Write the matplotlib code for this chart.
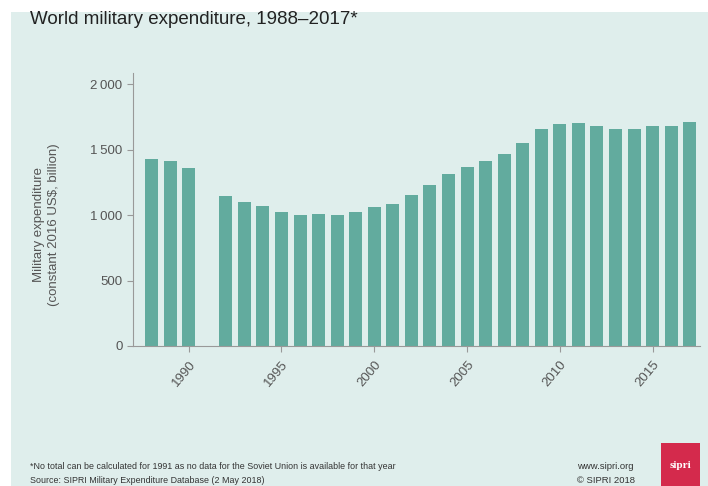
import matplotlib.pyplot as plt
from matplotlib.patches import Rectangle

years = [1988, 1989, 1990, 1992, 1993, 1994, 1995, 1996, 1997, 1998, 1999,
         2000, 2001, 2002, 2003, 2004, 2005, 2006, 2007, 2008, 2009, 2010,
         2011, 2012, 2013, 2014, 2015, 2016, 2017]
spending = [1430, 1412, 1356, 1143, 1099, 1066, 1020, 997, 1010, 997, 1023,
            1061, 1081, 1150, 1232, 1310, 1364, 1412, 1466, 1550, 1661, 1692,
            1700, 1682, 1661, 1656, 1679, 1677, 1708]
yticks = [0, 500, 1000, 1500, 2000]
ytick_labels = ['0', '500', '1\u2009000', '1\u2009500', '2\u2009000']
xticks = [1990, 1995, 2000, 2005, 2010, 2015]

bg = '#dfeeec'
bar_color = '#62ab9e'
text_color = '#333333'

plt.rcParams['font.family'] = ['Liberation Sans', 'DejaVu Sans']

fig = plt.figure(figsize=(7.08, 4.86), dpi=100)
fig.patch.set_facecolor('white')
# mint panel behind everything, white margins top and left
fig.patches.append(Rectangle((11 / 708, 0), 1, 1 - 12 / 486, transform=fig.transFigure,
                             facecolor=bg, edgecolor='none', zorder=-10))

ax = fig.add_axes([133 / 708, 1 - 346 / 486, (700 - 133) / 708, (346 - 73) / 486])
ax.set_facecolor('none')
ax.bar(years, spending, width=0.7, color=bar_color, zorder=2)

ax.set_xlim(1987.0, 2017.55)
ax.set_ylim(0, 2085)
ax.set_yticks(yticks)
ax.set_yticklabels(ytick_labels)
ax.set_xticks(xticks)
ax.set_xticklabels([str(x) for x in xticks], rotation=50, ha='right', rotation_mode='anchor')

for s in ['top', 'right']:
    ax.spines[s].set_visible(False)
for s in ['left', 'bottom']:
    ax.spines[s].set_color('#999999')
    ax.spines[s].set_linewidth(0.8)
ax.tick_params(axis='both', colors='#999999', labelcolor='#555555', labelsize=9.5, length=4, width=0.8)
ax.tick_params(axis='x', pad=5)

ax.set_ylabel('Military expenditure\n(constant 2016 US$, billion)', fontsize=9.5,
              color='#555555', linespacing=1.35)
ax.yaxis.set_label_coords(-0.128, 0.445)

fig.text(30 / 708, 1 - 19 / 486, 'World military expenditure, 1988\u20132017*',
         fontsize=13.5, color='#222222', va='center', ha='left')

fig.text(30 / 708, 1 - 466 / 486,
         '*No total can be calculated for 1991 as no data for the Soviet Union is available for that year',
         fontsize=6.4, color=text_color, va='center', ha='left')
fig.text(30 / 708, 1 - 480 / 486, 'Source: SIPRI Military Expenditure Database (2 May 2018)',
         fontsize=6.4, color=text_color, va='center', ha='left')
fig.text(577 / 708, 1 - 466 / 486, 'www.sipri.org', fontsize=6.8, color=text_color,
         va='center', ha='left')
fig.text(577 / 708, 1 - 480 / 486, '\u00a9 SIPRI 2018', fontsize=6.8, color=text_color,
         va='center', ha='left')

# sipri logo block
fig.patches.append(Rectangle((661 / 708, 0), 39 / 708, 43 / 486, transform=fig.transFigure,
                             facecolor='#d42a4c', edgecolor='none'))
fig.text(680.5 / 708, 1 - 465 / 486, 'sipri', fontsize=8, color='white', fontweight='bold',
         va='center', ha='center', family='Liberation Serif')

fig.savefig('out.png', dpi=100, facecolor=fig.get_facecolor())
